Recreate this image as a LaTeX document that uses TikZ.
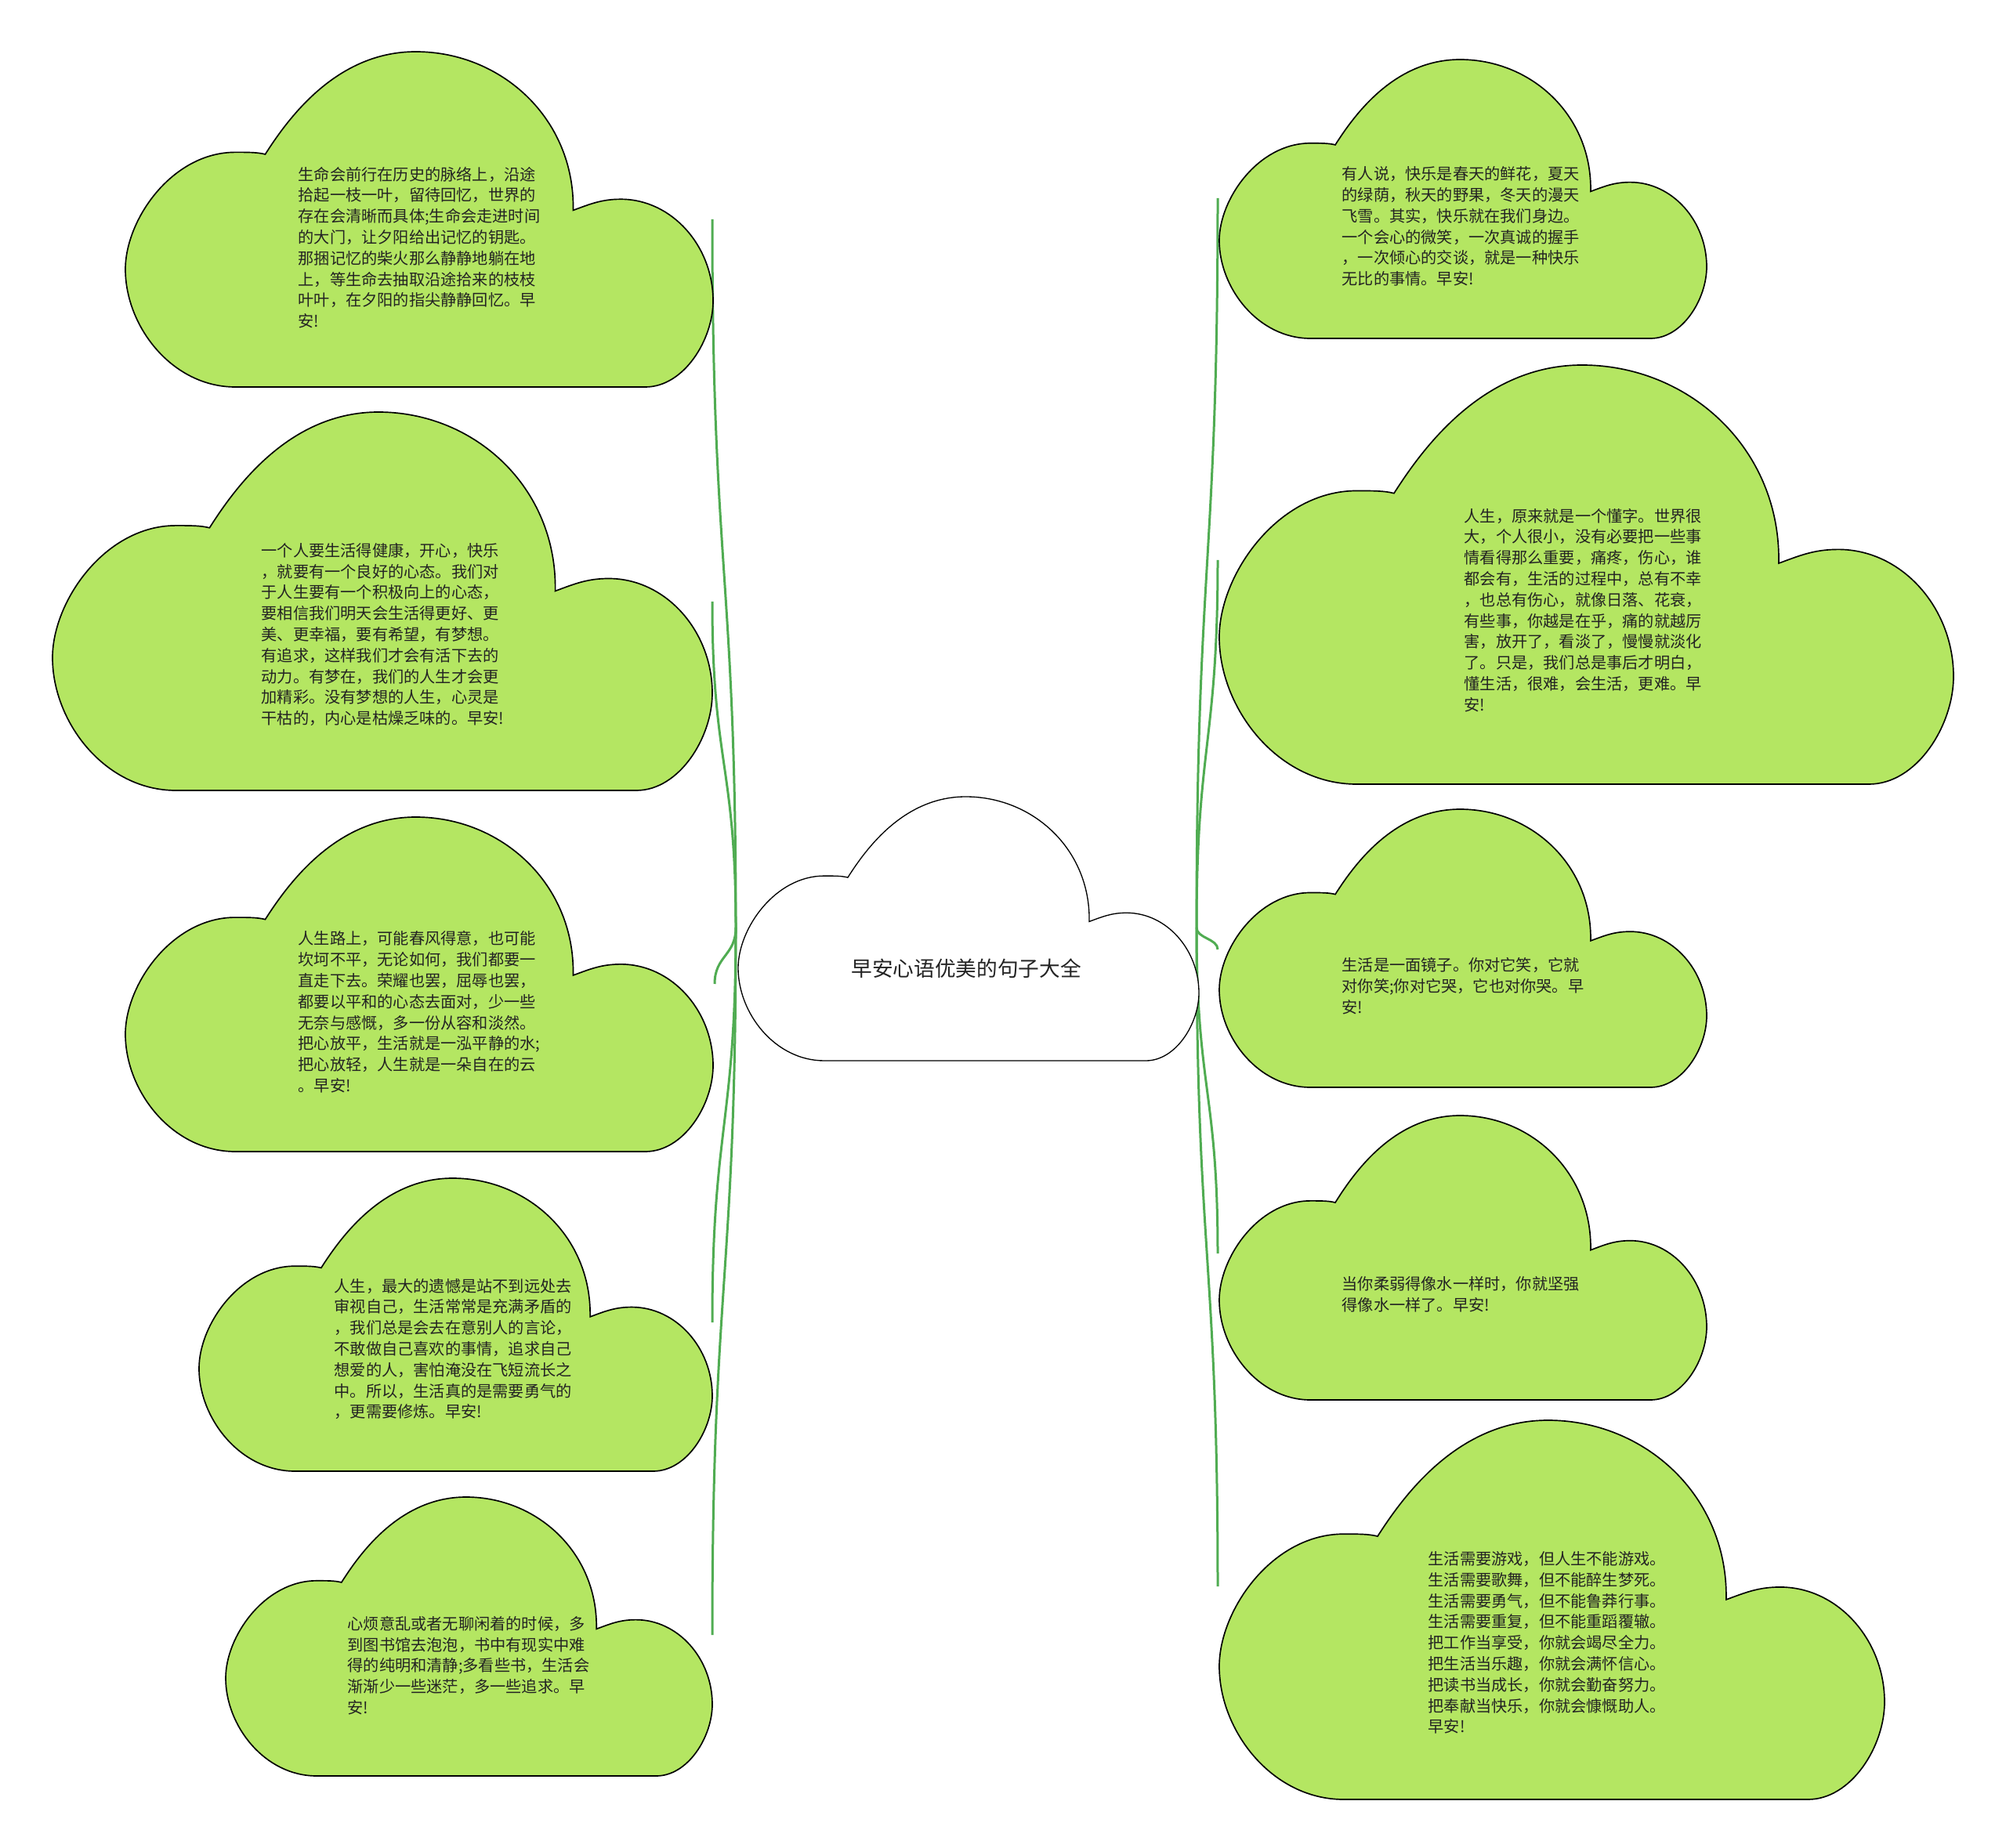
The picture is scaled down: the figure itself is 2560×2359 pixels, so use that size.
\documentclass[tikz,border=0pt]{standalone}
\usepackage{fontspec}
\newfontfamily\cjk{Noto Sans CJK SC}
\usetikzlibrary{calc}
\definecolor{cloudgreen}{RGB}{180,230,98}
\definecolor{linkgreen}{RGB}{80,172,82}
\definecolor{txtcol}{RGB}{35,35,35}
\tikzset{
  leafcloud/.style={fill=cloudgreen,draw=black,line width=0.5pt},
  rootcloud/.style={fill=white,draw=black,line width=0.4pt},
  leaftext/.style={anchor=west,inner sep=0pt,align=left,text=txtcol,
    font=\cjk\fontsize{6.06pt}{8.04pt}\selectfont},
  roottext/.style={inner sep=0pt,text=txtcol,font=\cjk\fontsize{8pt}{10pt}\selectfont},
  conn/.style={draw=linkgreen,line width=0.9pt}
}
\newcommand\drawcloud[5]{%
  \begin{scope}[shift={(#2,#3)},xscale=#4,yscale=#5]
    \path[#1] (0.187,1) .. controls (0.08,1) and (0,0.82) .. (0,0.649)
      .. controls (0,0.50) and (0.08,0.30) .. (0.187,0.30)
      .. controls (0.21,0.30) and (0.225,0.30) .. (0.238,0.306)
      .. controls (0.278,0.196) and (0.36,0) .. (0.494,0)
      .. controls (0.64,0) and (0.765,0.2) .. (0.762,0.473)
      .. controls (0.79,0.455) and (0.81,0.44) .. (0.843,0.44)
      .. controls (0.93,0.44) and (1,0.58) .. (1,0.743)
      .. controls (1,0.86) and (0.95,1) .. (0.885,1)
      -- cycle;
  \end{scope}}
\newcommand\linkto[2]{\draw[conn] (#1) .. controls ($(#1)!0.5!(#1|-#2)$) and ($(#2)!0.5!(#2|-#1)$) .. (#2);}
\begin{document}
\begin{tikzpicture}[x=0.3pt,y=-0.3pt]
\useasboundingbox (0,0) rectangle (2560,2359);
% connector end points
\coordinate (jl) at (939,1184);
\coordinate (jr) at (1527,1184);
\coordinate (el1) at (909,280);
\coordinate (el2) at (909,768);
\coordinate (el3) at (912,1256);
\coordinate (el4) at (909,1688);
\coordinate (el5) at (909,2087);
\coordinate (er1) at (1554,253);
\coordinate (er2) at (1554,715);
\coordinate (er3) at (1554,1212);
\coordinate (er4) at (1554,1600);
\coordinate (er5) at (1554,2025);
% connectors
\linkto{jl}{el1}
\linkto{jl}{el2}
\linkto{jl}{el3}
\linkto{jl}{el4}
\linkto{jl}{el5}
\linkto{jr}{er1}
\linkto{jr}{er2}
\linkto{jr}{er3}
\linkto{jr}{er4}
\linkto{jr}{er5}
% clouds
\drawcloud{rootcloud}{942}{1017}{588}{337}
\drawcloud{leafcloud}{160}{66}{750}{428}
\drawcloud{leafcloud}{67}{526}{842}{483}
\drawcloud{leafcloud}{160}{1043}{750}{427}
\drawcloud{leafcloud}{254}{1504}{655}{374}
\drawcloud{leafcloud}{288}{1911}{621}{356}
\drawcloud{leafcloud}{1556}{76}{622}{356}
\drawcloud{leafcloud}{1556}{466}{937}{535}
\drawcloud{leafcloud}{1556}{1033}{622}{355}
\drawcloud{leafcloud}{1556}{1424}{622}{363}
\drawcloud{leafcloud}{1556}{1813}{849}{484}
% texts
\node[roottext] (root) at (1233,1236) {早安心语优美的句子大全};
\node[leaftext] (l1) at (380,316) {生命会前行在历史的脉络上，沿途\\拾起一枝一叶，留待回忆，世界的\\存在会清晰而具体;生命会走进时间\\的大门，让夕阳给出记忆的钥匙。\\那捆记忆的柴火那么静静地躺在地\\上，等生命去抽取沿途拾来的枝枝\\叶叶，在夕阳的指尖静静回忆。早\\安!};
\node[leaftext] (l2) at (333,810) {一个人要生活得健康，开心，快乐\\，就要有一个良好的心态。我们对\\于人生要有一个积极向上的心态，\\要相信我们明天会生活得更好、更\\美、更幸福，要有希望，有梦想。\\有追求，这样我们才会有活下去的\\动力。有梦在，我们的人生才会更\\加精彩。没有梦想的人生，心灵是\\干枯的，内心是枯燥乏味的。早安!};
\node[leaftext] (l3) at (380,1292) {人生路上，可能春风得意，也可能\\坎坷不平，无论如何，我们都要一\\直走下去。荣耀也罢，屈辱也罢，\\都要以平和的心态去面对，少一些\\无奈与感慨，多一份从容和淡然。\\把心放平，生活就是一泓平静的水;\\把心放轻，人生就是一朵自在的云\\。早安!};
\node[leaftext] (l4) at (426,1722) {人生，最大的遗憾是站不到远处去\\审视自己，生活常常是充满矛盾的\\，我们总是会去在意别人的言论，\\不敢做自己喜欢的事情，追求自己\\想爱的人，害怕淹没在飞短流长之\\中。所以，生活真的是需要勇气的\\，更需要修炼。早安!};
\node[leaftext] (l5) at (443,2126) {心烦意乱或者无聊闲着的时候，多\\到图书馆去泡泡，书中有现实中难\\得的纯明和清静;多看些书，生活会\\渐渐少一些迷茫，多一些追求。早\\安!};
\node[leaftext] (r1) at (1712,289) {有人说，快乐是春天的鲜花，夏天\\的绿荫，秋天的野果，冬天的漫天\\飞雪。其实，快乐就在我们身边。\\一个会心的微笑，一次真诚的握手\\，一次倾心的交谈，就是一种快乐\\无比的事情。早安!};
\node[leaftext] (r2) at (1868,779) {人生，原来就是一个懂字。世界很\\大，个人很小，没有必要把一些事\\情看得那么重要，痛疼，伤心，谁\\都会有，生活的过程中，总有不幸\\，也总有伤心，就像日落、花衰，\\有些事，你越是在乎，痛的就越厉\\害，放开了，看淡了，慢慢就淡化\\了。只是，我们总是事后才明白，\\懂生活，很难，会生活，更难。早\\安!};
\node[leaftext] (r3) at (1712,1259) {生活是一面镜子。你对它笑，它就\\对你笑;你对它哭，它也对你哭。早\\安!};
\node[leaftext] (r4) at (1712,1652) {当你柔弱得像水一样时，你就坚强\\得像水一样了。早安!};
\node[leaftext] (r5) at (1822,2097) {生活需要游戏，但人生不能游戏。\\生活需要歌舞，但不能醉生梦死。\\生活需要勇气，但不能鲁莽行事。\\生活需要重复，但不能重蹈覆辙。\\把工作当享受，你就会竭尽全力。\\把生活当乐趣，你就会满怀信心。\\把读书当成长，你就会勤奋努力。\\把奉献当快乐，你就会慷慨助人。\\早安!};
\end{tikzpicture}
\end{document}
